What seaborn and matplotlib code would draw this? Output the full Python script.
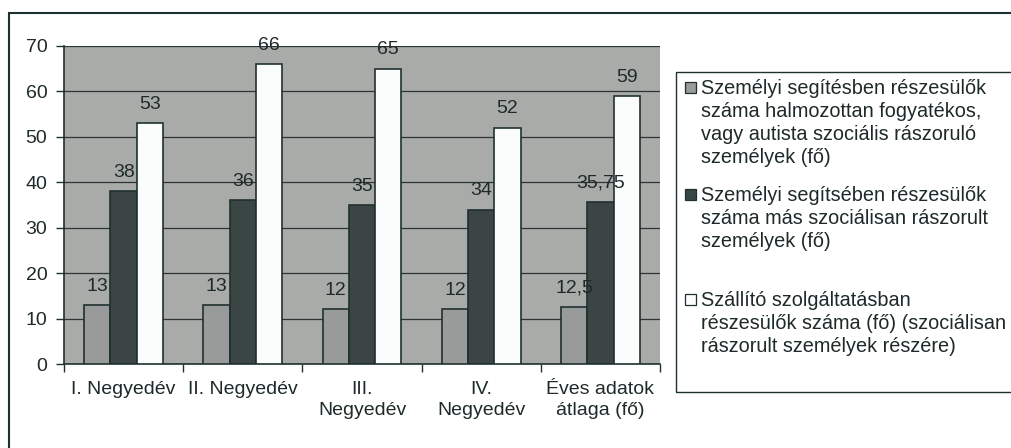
import numpy as np
import pandas as pd
import matplotlib
matplotlib.use("Agg")
import matplotlib.pyplot as plt
from matplotlib.patches import Rectangle
import seaborn as sns

# === Data ===
categories = ["I. Negyedév", "II. Negyedév", "III.\nNegyedév", "IV.\nNegyedév", "Éves adatok\nátlaga (fő)"]
series_names = [
    "Személyi segítésben részesülők\nszáma halmozottan fogyatékos,\nvagy autista szociális rászoruló\nszemélyek (fő)",
    "Személyi segítsében részesülők\nszáma más szociálisan rászorult\nszemélyek (fő)",
    "Szállító szolgáltatásban\nrészesülők száma (fő) (szociálisan\nrászorult személyek részére)",
]
halmozott = [13, 13, 12, 12, 12.5]
mas_rászorult = [38, 36, 35, 34, 35.75]
szallito = [53, 66, 65, 52, 59]

df = pd.DataFrame({
    "cat": categories * 3,
    "series": [series_names[0]] * 5 + [series_names[1]] * 5 + [series_names[2]] * 5,
    "value": halmozott + mas_rászorult + szallito,
})

# === Style ===
sns.set_theme(style="white")
plt.rcParams["font.family"] = ["Liberation Sans", "DejaVu Sans"]
text_col = "#1e2a2a"
edge_col = "#1f3030"
bar_colors = ["#979b99", "#384745", "#fbfcfc"]
fs = 14

W, H = 1011, 448
fig = plt.figure(figsize=(W / 100, H / 100), dpi=100)
fig.patch.set_facecolor("white")

def fx(x):
    return x / W

def fy(y):
    return 1 - y / H

ax = fig.add_axes([fx(64), fy(364), fx(660) - fx(64), fy(46) - fy(364)])
ax.set_facecolor("#a9aba9")

sns.barplot(data=df, x="cat", y="value", hue="series", palette=bar_colors,
            width=0.66, gap=0, edgecolor=edge_col, linewidth=1.2,
            legend=False, ax=ax, zorder=3)

# value labels (decimal comma)
def fmt(v):
    return f"{v:g}".replace(".", ",")

for cont, vals in zip(ax.containers, [halmozott, mas_rászorult, szallito]):
    ax.bar_label(cont, labels=[fmt(v) for v in vals], padding=7.5, fontsize=fs, color=text_col)

ax.set_ylim(0, 70)
ax.set_xlim(-0.5, 4.5)
ax.set_yticks(np.arange(0, 71, 10))
ax.yaxis.grid(True, color="#2a3434", linewidth=0.9, zorder=0)
ax.set_axisbelow(True)

# ticks at group boundaries, labels at centers
ax.set_xticks(np.arange(-0.5, 5, 1))
ax.set_xticklabels([])
ax.set_xticks(np.arange(5), minor=True)
ax.set_xticklabels(categories, minor=True, fontsize=fs, color=text_col, linespacing=1.3)
ax.tick_params(axis="x", which="major", direction="out", length=6, width=1, color=edge_col, bottom=True)
ax.tick_params(axis="x", which="minor", length=0, pad=12)
ax.tick_params(axis="y", direction="out", length=6, width=1, color=edge_col,
               labelsize=fs, labelcolor=text_col, pad=6, left=True)
ax.set_xlabel("")
ax.set_ylabel("")

for s in ["top", "right"]:
    ax.spines[s].set_visible(False)
for s in ["left", "bottom"]:
    ax.spines[s].set_color(edge_col)
    ax.spines[s].set_linewidth(1.2)

# outer chart frame (cropped in the scan on right and bottom)
fig.patches.append(Rectangle((fx(9), fy(470)), fx(1030) - fx(9), fy(13) - fy(470),
                             transform=fig.transFigure, fill=False,
                             edgecolor=edge_col, linewidth=1.5))

# legend box
fig.patches.append(Rectangle((fx(676), fy(392)), fx(1030) - fx(676), fy(72) - fy(392),
                             transform=fig.transFigure, fill=False,
                             edgecolor=edge_col, linewidth=1.0))

entry_tops = [88, 195, 300]
line_h = 23
for name, col, y0 in zip(series_names, bar_colors, entry_tops):
    fig.patches.append(Rectangle((fx(685), fy(y0 + 5)), fx(696) - fx(685), fy(y0 - 6) - fy(y0 + 5),
                                 transform=fig.transFigure, facecolor=col,
                                 edgecolor=edge_col, linewidth=0.9))
    for i, line in enumerate(name.split("\n")):
        fig.text(fx(701), fy(y0 + i * line_h), line, fontsize=14.3, color=text_col,
                 ha="left", va="center")

fig.savefig("out.png", dpi=100)
